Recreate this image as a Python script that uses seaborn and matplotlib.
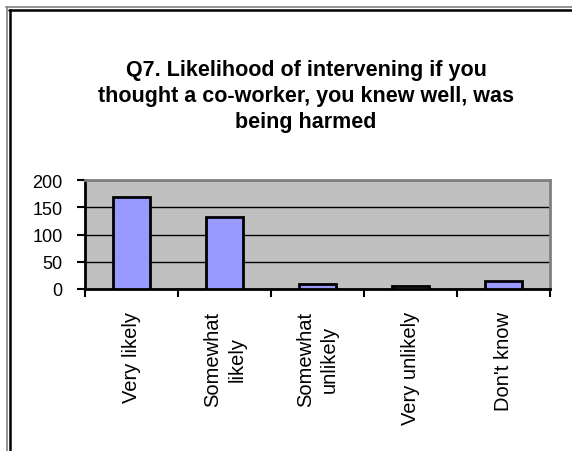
import matplotlib
matplotlib.use("Agg")
import matplotlib.pyplot as plt
from matplotlib.lines import Line2D
import seaborn as sns
import pandas as pd

categories = ["Very likely", "Somewhat\nlikely", "Somewhat\nunlikely", "Very unlikely", "Don't know"]
counts = [168, 132, 10, 6, 15]
y_ticks = [0, 50, 100, 150, 200]
title = "Q7. Likelihood of intervening if you\nthought a co-worker, you knew well, was\nbeing harmed"

sns.set_theme(style="white")
plt.rcParams["font.family"] = ["Liberation Sans", "DejaVu Sans"]
plt.rcParams["text.color"] = "black"
plt.rcParams["xtick.labelcolor"] = "black"
plt.rcParams["ytick.labelcolor"] = "black"

W, H = 572, 452
fig = plt.figure(figsize=(W / 100, H / 100), dpi=100)
fig.patch.set_facecolor("white")

ax = fig.add_axes([85 / W, (H - 290) / H, (550 - 85) / W, (290 - 181) / H])
df = pd.DataFrame({"cat": categories, "n": counts})
sns.barplot(data=df, x="cat", y="n", color="#9999FF", saturation=1,
            edgecolor="black", linewidth=2, width=0.39, ax=ax, zorder=3)
ax.set_facecolor("#C0C0C0")
ax.set_xlim(-0.5, len(categories) - 0.5)
ax.set_ylim(0, 200)
ax.set_yticks(y_ticks)
ax.set_yticklabels([str(v) for v in y_ticks])
ax.yaxis.grid(True, color="black", linewidth=1, zorder=1)
ax.set_axisbelow(True)
ax.set_xlabel("")
ax.set_ylabel("")

# ticks between categories, labels centered
n = len(categories)
ax.set_xticks([i - 0.5 for i in range(n + 1)])
ax.set_xticklabels([""] * (n + 1))
ax.set_xticks(list(range(n)), minor=True)
ax.set_xticklabels(categories, minor=True, rotation=90, va="top", ha="center",
                   multialignment="center", fontsize=14.5, color="black",
                   linespacing=1.35)
ax.tick_params(axis="x", which="major", direction="out", length=6, width=1.5,
               color="black", bottom=True)
ax.tick_params(axis="x", which="minor", length=0, pad=16, bottom=True)
ax.tick_params(axis="y", direction="out", length=6, width=1.5, color="black",
               labelsize=13, pad=10, left=True)

for s in ["left", "bottom"]:
    ax.spines[s].set_color("black")
    ax.spines[s].set_linewidth(2)
for s in ["top", "right"]:
    ax.spines[s].set_color("#808080")
    ax.spines[s].set_linewidth(2)

fig.text(306 / W, 1 - 60 / H, title, ha="center", va="top", multialignment="center",
         fontsize=15.5, fontweight="bold", linespacing=1.3, color="black")

# double border on top and left
fig.add_artist(Line2D([6.5 / W, 6.5 / W], [0, 1 - 8 / H], color="#808080", lw=1.2, transform=fig.transFigure))
fig.add_artist(Line2D([9.5 / W, 9.5 / W], [0, 1 - 10.5 / H], color="black", lw=1.8, transform=fig.transFigure))
fig.add_artist(Line2D([6 / W, 1], [1 - 8 / H, 1 - 8 / H], color="#808080", lw=1.2, transform=fig.transFigure))
fig.add_artist(Line2D([9 / W, 1], [1 - 10.5 / H, 1 - 10.5 / H], color="black", lw=1.8, transform=fig.transFigure))

fig.savefig("out.png", dpi=100, facecolor="white")
